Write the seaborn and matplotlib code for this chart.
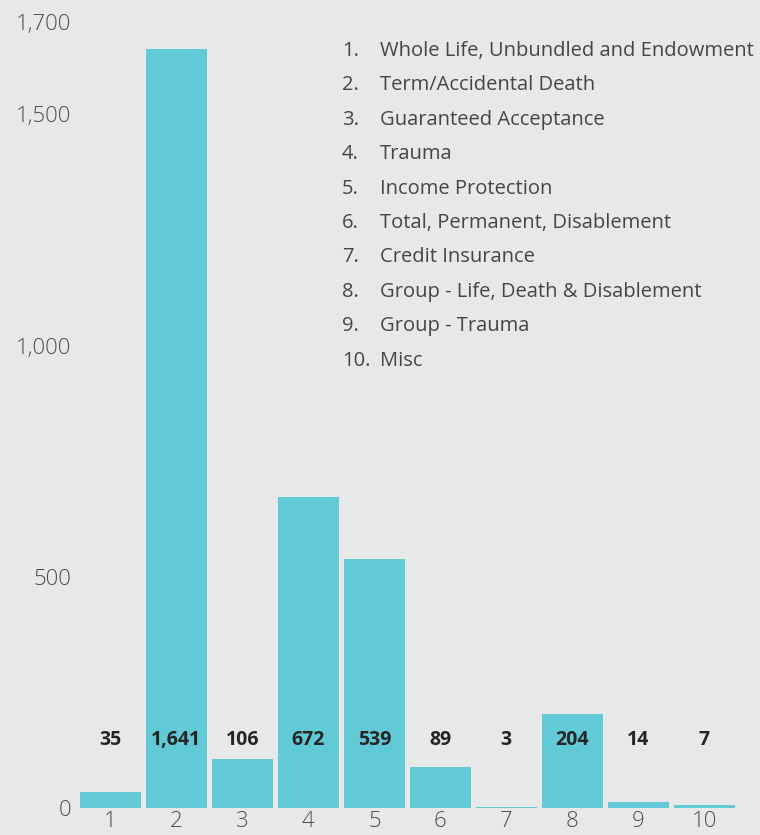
import matplotlib
matplotlib.use("Agg")
import matplotlib.pyplot as plt
import seaborn as sns
import pandas as pd

# data
categories = ["1", "2", "3", "4", "5", "6", "7", "8", "9", "10"]
values = [35, 1641, 106, 672, 539, 89, 3, 204, 14, 7]
legend_names = [
    "Whole Life, Unbundled and Endowment",
    "Term/Accidental Death",
    "Guaranteed Acceptance",
    "Trauma",
    "Income Protection",
    "Total, Permanent, Disablement",
    "Credit Insurance",
    "Group - Life, Death & Disablement",
    "Group - Trauma",
    "Misc",
]
yticks = [0, 500, 1000, 1500, 1700]

bg = "#e7e9e8"
bar_color = "#62c9d6"

sns.set_style("white")
plt.rcParams["font.family"] = ["Open Sans", "DejaVu Sans"]

df = pd.DataFrame({"cat": categories, "val": values})

fig = plt.figure(figsize=(7.6, 8.35), dpi=100, facecolor=bg)
ax = fig.add_axes([80 / 760, 27 / 835, 680 / 760, 786 / 835])
ax.set_facecolor(bg)

sns.barplot(data=df, x="cat", y="val", color=bar_color, saturation=1,
            width=0.92, order=categories, linewidth=0, ax=ax)

ax.set_xlim(-0.46, -0.46 + 680 / 66)
ax.set_ylim(0, 1700)
ax.set_yticks(yticks)
ax.set_yticklabels([f"{v:,}" for v in yticks])
ax.set_xlabel("")
ax.set_ylabel("")
for s in ax.spines.values():
    s.set_visible(False)
ax.tick_params(axis="both", length=0, labelsize=16, labelcolor="#4d4d4d")
ax.tick_params(axis="y", pad=6)
ax.tick_params(axis="x", pad=2)
for lbl in ax.get_xticklabels() + ax.get_yticklabels():
    lbl.set_fontweight("light")

# value labels
for i, v in enumerate(values):
    ax.text(i, 147, f"{v:,}", ha="center", va="center", fontsize=14,
            fontweight="bold", color="#252525")

# numbered list in the top right
top = 1 - 51 / 835
step = 34.4 / 835
for i, name in enumerate(legend_names):
    y = top - i * step
    fig.text(342 / 760, y, f"{i + 1}.", ha="left", va="center",
             fontsize=14.5, color="#454545")
    fig.text(380 / 760, y, name, ha="left", va="center",
             fontsize=14.5, color="#454545")

fig.savefig("out.png", dpi=100, facecolor=bg)
